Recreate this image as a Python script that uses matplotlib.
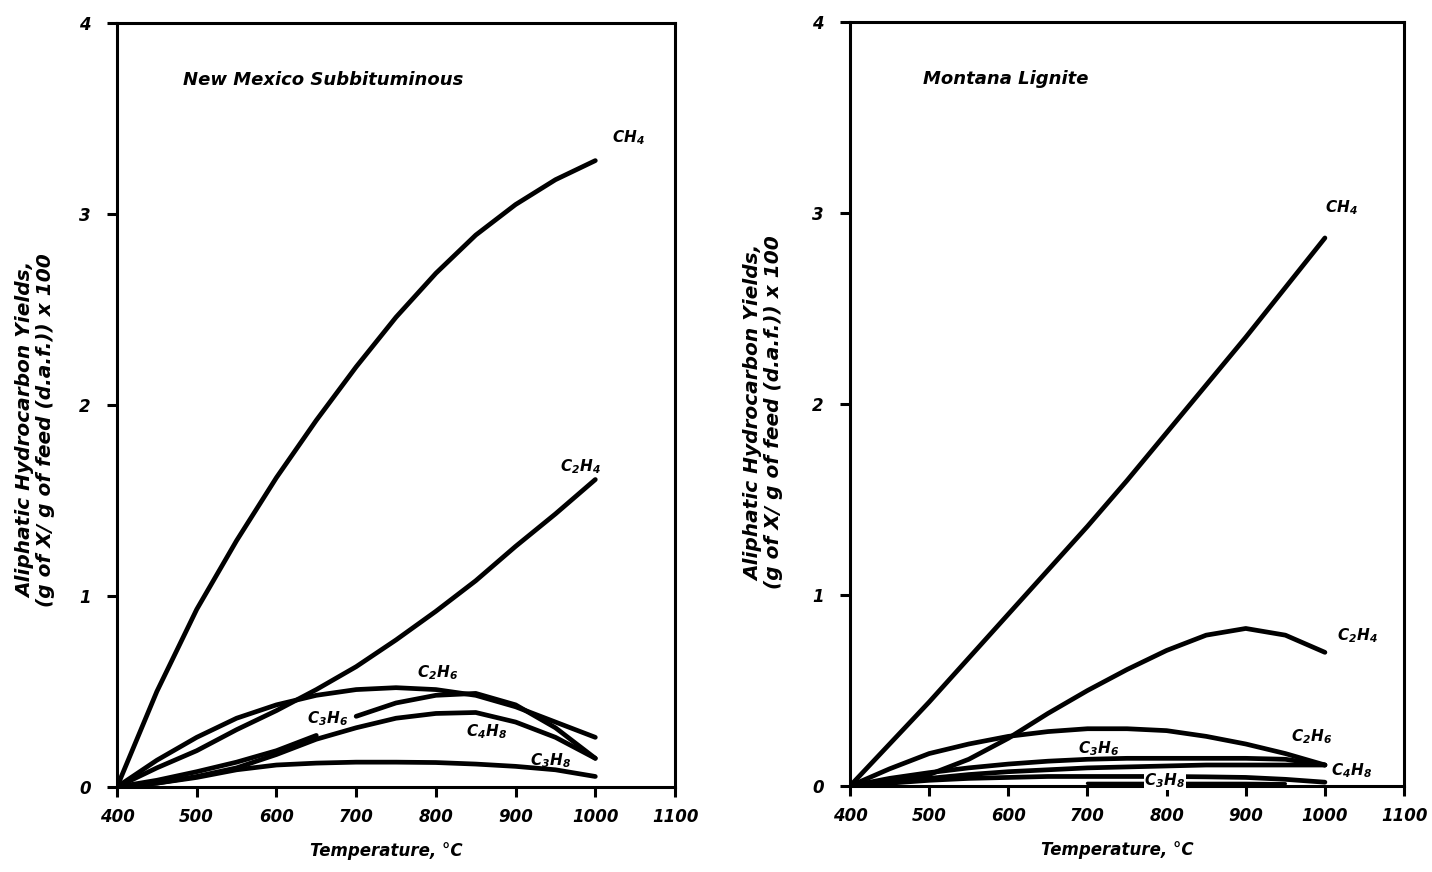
import numpy as np
import matplotlib
matplotlib.use("Agg")
import matplotlib.pyplot as plt

plt.rcParams['font.family'] = ['DejaVu Sans']
plt.rcParams['font.weight'] = 'bold'
plt.rcParams['font.style'] = 'italic'
plt.rcParams['mathtext.fontset'] = 'custom'
plt.rcParams['mathtext.rm'] = 'DejaVu Sans:italic:bold'
plt.rcParams['mathtext.it'] = 'DejaVu Sans:italic:bold'
plt.rcParams['mathtext.bf'] = 'DejaVu Sans:italic:bold'

temp = [400, 450, 500, 550, 600, 650, 700, 750, 800, 850, 900, 950, 1000]

# New Mexico subbituminous coal
nm_ch4 = [0, 0.50, 0.93, 1.29, 1.62, 1.92, 2.20, 2.46, 2.69, 2.89, 3.05, 3.18, 3.28]
nm_c2h4 = [0, 0.10, 0.19, 0.30, 0.40, 0.51, 0.63, 0.77, 0.92, 1.08, 1.26, 1.43, 1.61]
nm_c2h6 = [0, 0.14, 0.26, 0.36, 0.43, 0.48, 0.51, 0.52, 0.51, 0.48, 0.42, 0.34, 0.26]
nm_c3h6 = [0, 0.035, 0.08, 0.13, 0.19, 0.27, 0.37, 0.44, 0.48, 0.49, 0.43, 0.31, 0.15]
nm_c4h8 = [0, 0.02, 0.055, 0.10, 0.17, 0.25, 0.31, 0.36, 0.385, 0.39, 0.34, 0.26, 0.15]
nm_c3h8 = [0, 0.02, 0.05, 0.09, 0.115, 0.125, 0.13, 0.13, 0.128, 0.12, 0.108, 0.09, 0.055]

# Montana lignite
ml_ch4 = [0, 0.22, 0.44, 0.67, 0.90, 1.13, 1.36, 1.60, 1.85, 2.10, 2.35, 2.61, 2.87]
ml_c2h4 = [0, 0.02, 0.06, 0.14, 0.25, 0.38, 0.50, 0.61, 0.71, 0.79, 0.825, 0.79, 0.70]
ml_c2h6 = [0, 0.09, 0.17, 0.22, 0.26, 0.285, 0.30, 0.30, 0.29, 0.26, 0.22, 0.17, 0.11]
ml_c3h6 = [0, 0.04, 0.07, 0.095, 0.115, 0.13, 0.14, 0.145, 0.145, 0.145, 0.145, 0.14, 0.11]
ml_c4h8 = [0, 0.02, 0.04, 0.06, 0.075, 0.085, 0.095, 0.10, 0.105, 0.11, 0.11, 0.11, 0.11]
ml_c3h8 = [0, 0.015, 0.03, 0.04, 0.045, 0.05, 0.05, 0.05, 0.05, 0.048, 0.045, 0.035, 0.02]
ml_low_t = [700, 750, 800, 850, 900, 950]
ml_low = [0.014, 0.014, 0.014, 0.014, 0.014, 0.012]

fig = plt.figure(figsize=(14.32, 8.72), dpi=100)
ax1 = fig.add_axes([0.0817, 0.0975, 0.3897, 0.876])
ax2 = fig.add_axes([0.5936, 0.0986, 0.3869, 0.876])

line_kw = dict(color='black', lw=3.4, solid_capstyle='round', solid_joinstyle='round')

for ax in (ax1, ax2):
    ax.set_xlim(400, 1100)
    ax.set_ylim(0, 4)
    ax.set_xticks(range(400, 1101, 100))
    ax.set_yticks([0, 1, 2, 3, 4])
    for s in ax.spines.values():
        s.set_linewidth(2.2)
    ax.tick_params(direction='out', length=7, width=2.2, labelsize=12)
    ax.tick_params(axis='x', pad=8)
    ax.tick_params(axis='y', pad=12)
    for lab in ax.get_xticklabels() + ax.get_yticklabels():
        lab.set_fontweight('bold')
        lab.set_fontstyle('italic')
    ax.set_xlabel('Temperature, °C', fontsize=12, fontweight='bold', fontstyle='italic')
    ax.xaxis.set_label_coords(0.482, -0.072)

ylab = 'Aliphatic Hydrocarbon Yields,\n(g of X/ g of feed (d.a.f.)) x 100'
for x, y in ((0.025, 0.507), (0.533, 0.527)):
    fig.text(x, y, ylab, rotation=90, ha='center', va='center', fontsize=14.5,
             fontweight='bold', fontstyle='italic', linespacing=1.05)

lab_kw = dict(fontsize=11, fontweight='bold', fontstyle='italic', ha='left', va='center')

# left panel
for y in (nm_ch4, nm_c2h4, nm_c2h6, nm_c4h8, nm_c3h8):
    ax1.plot(temp, y, **line_kw)
# propylene curve is broken where its label sits
ax1.plot(temp[:6], nm_c3h6[:6], **line_kw)
ax1.plot(temp[6:], nm_c3h6[6:], **line_kw)
ax1.text(483, 3.70, 'New Mexico Subbituminous', fontsize=13, fontweight='bold',
         fontstyle='italic', ha='left', va='center')
ax1.text(1021, 3.40, 'CH$_4$', **lab_kw)
ax1.text(956, 1.68, 'C$_2$H$_4$', **lab_kw)
ax1.text(776, 0.60, 'C$_2$H$_6$', **lab_kw)
ax1.text(638, 0.36, 'C$_3$H$_6$', **lab_kw)
ax1.text(838, 0.29, 'C$_4$H$_8$', **lab_kw)
ax1.text(918, 0.14, 'C$_3$H$_8$', **lab_kw)

# right panel
for y in (ml_ch4, ml_c2h4, ml_c2h6, ml_c3h6, ml_c4h8, ml_c3h8):
    ax2.plot(temp, y, **line_kw)
ax2.plot(ml_low_t, ml_low, color='black', lw=2.4, solid_capstyle='round')
ax2.text(492, 3.70, 'Montana Lignite', fontsize=13, fontweight='bold',
         fontstyle='italic', ha='left', va='center')
ax2.text(1000, 3.03, 'CH$_4$', **lab_kw)
ax2.text(1015, 0.785, 'C$_2$H$_4$', **lab_kw)
ax2.text(957, 0.26, 'C$_2$H$_6$', **lab_kw)
ax2.text(688, 0.195, 'C$_3$H$_6$', **lab_kw)
ax2.text(1008, 0.08, 'C$_4$H$_8$', **lab_kw)
ax2.text(772, 0.03, 'C$_3$H$_8$', bbox=dict(facecolor='white', edgecolor='none', pad=0.3),
         zorder=5, **lab_kw)

fig.savefig('out.png', dpi=100)
